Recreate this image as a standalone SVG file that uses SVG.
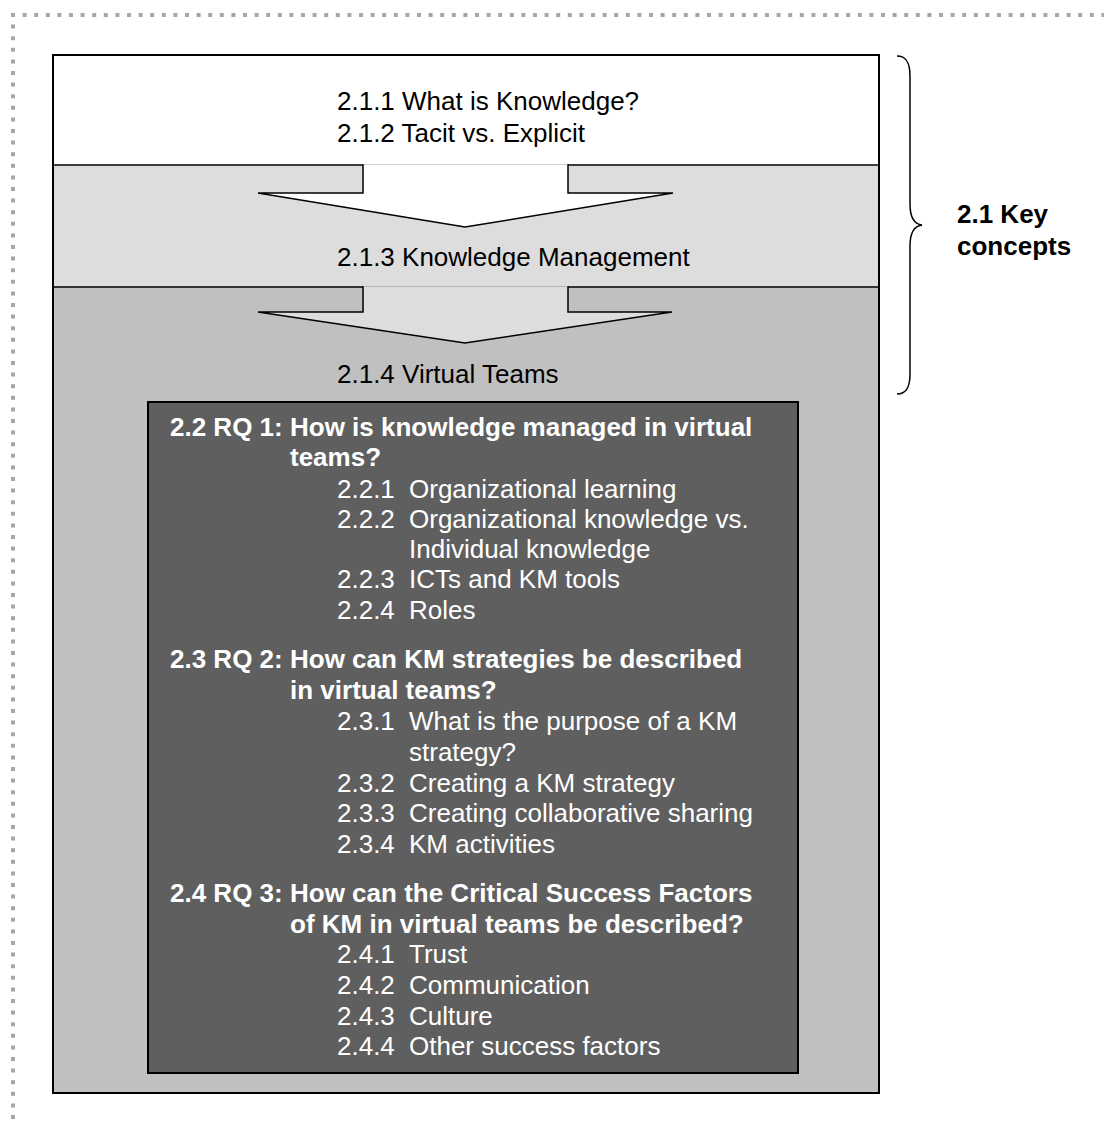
<svg xmlns="http://www.w3.org/2000/svg" width="1104" height="1126" viewBox="0 0 1104 1126">
  <style>
    .t { font-family: "Liberation Sans", Arial, sans-serif; font-size: 26px; fill: #000; }
    .w { font-family: "Liberation Sans", Arial, sans-serif; font-size: 26px; fill: #fff; }
    .b { font-weight: bold; }
    .edge { stroke: #000; stroke-width: 1.5; fill: none; }
    .dots { stroke: #a6a6a6; stroke-width: 4; stroke-dasharray: 4 7.6; fill: none; }
  </style>

  <rect width="1104" height="1126" fill="#fff"/>

  <!-- dotted page frame -->
  <g id="page-frame">
    <line class="dots" x1="11" y1="15" x2="1104" y2="15"/>
    <line class="dots" x1="13" y1="13" x2="13" y2="1126"/>
  </g>

  <!-- key concepts stack -->
  <g id="key-concepts">
    <rect x="53" y="55" width="826" height="110" fill="#ffffff"/>
    <rect x="53" y="165" width="826" height="122" fill="#dddddd"/>
    <rect x="53" y="287" width="826" height="806" fill="#c0c0c0"/>
    <line class="edge" x1="53" y1="165" x2="879" y2="165"/>
    <line class="edge" x1="53" y1="287" x2="879" y2="287"/>
  </g>

  <!-- connectors: chevron arrows between bands -->
  <g id="connectors">
    <path d="M363,164.2 V193 H258 L465,227 L673,193 H568 V164.2" fill="#ffffff" stroke="#000" stroke-width="1.5" stroke-linejoin="miter"/>
    <path d="M363,286.2 V312 H258 L465,343 L672,312 H568 V286.2" fill="#dddddd" stroke="#000" stroke-width="1.5" stroke-linejoin="miter"/>
  </g>

  <g id="band-texts">
    <text class="t" x="337" y="110">2.1.1 What is Knowledge?</text>
    <text class="t" x="337" y="142">2.1.2 Tacit vs. Explicit</text>
    <text class="t" x="337" y="266">2.1.3 Knowledge Management</text>
    <text class="t" x="337" y="383">2.1.4 Virtual Teams</text>
  </g>

  <rect x="53" y="55" width="826" height="1038" fill="none" stroke="#000" stroke-width="2"/>

  <!-- research questions box -->
  <g id="research-questions">
    <rect x="148" y="402" width="650" height="671" fill="#5f5f5f" stroke="#000" stroke-width="2"/>

    <text class="w b" x="170" y="436">2.2 RQ 1:</text>
    <text class="w b" x="290" y="436">How is knowledge managed in virtual</text>
    <text class="w b" x="290" y="466">teams?</text>
    <text class="w" x="337" y="498">2.2.1</text><text class="w" x="409" y="498">Organizational learning</text>
    <text class="w" x="337" y="528">2.2.2</text><text class="w" x="409" y="528">Organizational knowledge vs.</text>
    <text class="w" x="409" y="558">Individual knowledge</text>
    <text class="w" x="337" y="588">2.2.3</text><text class="w" x="409" y="588">ICTs and KM tools</text>
    <text class="w" x="337" y="619">2.2.4</text><text class="w" x="409" y="619">Roles</text>

    <text class="w b" x="170" y="668">2.3 RQ 2:</text>
    <text class="w b" x="290" y="668">How can KM strategies be described</text>
    <text class="w b" x="290" y="699">in virtual teams?</text>
    <text class="w" x="337" y="730">2.3.1</text><text class="w" x="409" y="730">What is the purpose of a KM</text>
    <text class="w" x="409" y="761">strategy?</text>
    <text class="w" x="337" y="792">2.3.2</text><text class="w" x="409" y="792">Creating a KM strategy</text>
    <text class="w" x="337" y="822">2.3.3</text><text class="w" x="409" y="822">Creating collaborative sharing</text>
    <text class="w" x="337" y="853">2.3.4</text><text class="w" x="409" y="853">KM activities</text>

    <text class="w b" x="170" y="902">2.4 RQ 3:</text>
    <text class="w b" x="290" y="902">How can the Critical Success Factors</text>
    <text class="w b" x="290" y="933">of KM in virtual teams be described?</text>
    <text class="w" x="337" y="963">2.4.1</text><text class="w" x="409" y="963">Trust</text>
    <text class="w" x="337" y="994">2.4.2</text><text class="w" x="409" y="994">Communication</text>
    <text class="w" x="337" y="1025">2.4.3</text><text class="w" x="409" y="1025">Culture</text>
    <text class="w" x="337" y="1055">2.4.4</text><text class="w" x="409" y="1055">Other success factors</text>
  </g>

  <!-- brace grouping 2.1 -->
  <g id="key-concepts-brace">
    <path d="M897,56 C906,56 910,62 910,76 V204 C910,216 914,224 922,225 C914,226 910,234 910,246 V374 C910,388 906,394 897,394" fill="none" stroke="#000" stroke-width="1.5"/>
    <text class="t b" x="957" y="223">2.1 Key</text>
    <text class="t b" x="957" y="255">concepts</text>
  </g>
</svg>
